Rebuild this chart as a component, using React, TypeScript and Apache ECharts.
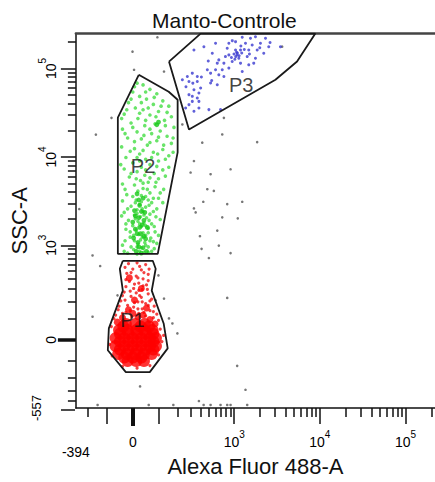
import React, { useEffect, useRef } from "react";
import * as echarts from "echarts";

// ---------- texts ----------
const TITLE = "Manto-Controle";
const X_NAME = "Alexa Fluor 488-A";
const Y_NAME = "SSC-A";
const X_MIN_LABEL = "-394";
const Y_MIN_LABEL = "-557";

// ---------- biexponential display scale (decade units) ----------
const X_LIN_WIDTH = 132;
const Y_LIN_WIDTH = 172;
const X_RANGE = [-0.663, 3.523];
const Y_RANGE = [-0.77, 3.461];

// ---------- tick values (raw intensity units) ----------
const LABEL_VALUES = [0, 1e3, 1e4, 1e5];
const LABEL_EXPONENTS = [0, 3, 4, 5];
const X_LONG_TICKS = [-100, 0, 100, 1e3, 1e4, 1e5];
const X_MINOR_TICKS = [-200, 200, 300, 400, 500, 600, 700, 800, 900, 2e3, 3e3, 4e3, 5e3, 6e3, 7e3, 8e3, 9e3, 2e4, 3e4, 4e4, 5e4, 6e4, 7e4, 8e4, 9e4, 2e5];
const Y_LONG_TICKS = [0, 1e3, 1e4, 1e5];
const Y_MINOR_TICKS = [-400, -300, -200, -100, 100, 200, 300, 400, 500, 600, 700, 800, 900, 2e3, 3e3, 4e3, 5e3, 6e3, 7e3, 8e3, 9e3, 2e4, 3e4, 4e4, 5e4, 6e4, 7e4, 8e4, 9e4, 2e5];

// ---------- gates (display units) ----------
const gateP1 = [[-0.116, 0.893], [0.233, 0.893], [0.267, 0.803], [0.221, 0.556], [0.36, 0.185], [0.407, -0.096], [0.198, -0.365], [-0.081, -0.365], [-0.291, -0.118], [-0.279, 0.129], [-0.116, 0.556], [-0.151, 0.803], [-0.116, 0.893]];
const gateP2 = [[0.07, 2.994], [0.419, 2.803], [0.523, 2.713], [0.523, 2.118], [0.291, 0.972], [-0.174, 0.972], [-0.174, 2.511], [0.07, 2.994]];
const gateP3 = [[0.422, 3.144], [0.791, 3.46], [2.128, 3.46], [1.915, 3.144], [1.663, 2.938], [0.655, 2.376], [0.422, 3.144]];
const gateLabels = [["P1", -0.003, 0.222], ["P2", 0.12, 1.964], ["P3", 1.264, 2.882]];

// ---------- events (display units) ----------
const redCore = [
  [-0.06, -0.24], [0.04, -0.24], [0.13, -0.24],
  [-0.1, -0.2], [0.0, -0.2], [0.1, -0.2],
  [-0.17, -0.16], [-0.07, -0.16], [0.03, -0.16], [0.13, -0.16], [0.22, -0.16],
  [-0.15, -0.11], [-0.05, -0.11], [0.05, -0.11], [0.15, -0.11], [0.24, -0.11],
  [-0.2, -0.07], [-0.1, -0.07], [0.0, -0.07], [0.1, -0.07], [0.2, -0.07], [0.27, -0.07],
  [-0.15, -0.02], [-0.05, -0.02], [0.05, -0.02], [0.15, -0.02], [0.24, -0.02],
  [-0.2, 0.02], [-0.1, 0.02], [0.0, 0.02], [0.1, 0.02], [0.2, 0.02], [0.27, 0.02],
  [-0.15, 0.07], [-0.05, 0.07], [0.05, 0.07], [0.15, 0.07], [0.24, 0.07],
  [-0.16, 0.11], [-0.06, 0.11], [0.04, 0.11], [0.14, 0.11], [0.23, 0.11],
  [-0.11, 0.15], [0.09, 0.15], [0.19, 0.15],
  [-0.08, 0.18], [0.03, 0.18], [0.14, 0.18],
];
const redMid = [[0.0, 0.3], [0.12, 0.28], [-0.12, 0.25], [0.2, 0.23], [-0.18, 0.2], [0.26, 0.18], [0.06, 0.26], [-0.05, 0.34], [0.16, 0.36], [0.02, 0.45], [0.1, 0.58], [-0.04, 0.7]];
const redDots = [
  [-0.05, 0.86], [0.05, 0.87], [0.15, 0.85], [0.0, 0.8], [0.1, 0.79], [-0.07, 0.75], [0.18, 0.74], [0.04, 0.72], [0.12, 0.69], [-0.04, 0.66], [0.07, 0.64], [0.16, 0.62], [-0.08, 0.6], [0.01, 0.58], [0.11, 0.57],
  [-0.1, 0.54], [0.04, 0.53], [0.18, 0.52], [-0.02, 0.49], [0.1, 0.48], [0.22, 0.46], [-0.14, 0.44], [0.06, 0.43], [0.15, 0.41], [-0.06, 0.39], [0.25, 0.38], [0.01, 0.37], [0.11, 0.35], [-0.17, 0.34], [0.2, 0.33], [-0.08, 0.31], [0.07, 0.3], [0.28, 0.29], [-0.2, 0.28], [0.15, 0.27], [-0.01, 0.26], [0.24, 0.25],
  [-0.25, 0.15], [0.32, 0.12], [-0.27, -0.05], [0.34, -0.02], [-0.24, -0.18], [0.3, -0.17], [-0.12, -0.3], [0.2, -0.29], [0.05, -0.32], [0.36, 0.05],
  [-0.09, 0.82], [0.08, 0.83], [0.19, 0.8], [-0.02, 0.76], [0.13, 0.76], [0.06, 0.7], [-0.08, 0.68], [0.18, 0.67], [0.02, 0.63], [0.12, 0.61], [-0.03, 0.55], [0.07, 0.56], [0.17, 0.57], [-0.12, 0.5], [0.08, 0.5], [0.2, 0.44], [-0.09, 0.45], [0.02, 0.42], [0.11, 0.43], [-0.16, 0.38], [0.18, 0.39], [-0.03, 0.33], [0.06, 0.35], [0.24, 0.32], [-0.12, 0.3], [0.13, 0.31], [-0.22, 0.24], [0.3, 0.22],
];
const greenDots = [
  [0.05, 2.9], [0.12, 2.88], [0.2, 2.83], [0.0, 2.8], [0.28, 2.78], [0.08, 2.75], [0.16, 2.72], [0.35, 2.7], [-0.05, 2.68], [0.24, 2.66], [0.42, 2.64], [0.03, 2.62], [0.12, 2.6], [0.3, 2.58], [-0.1, 2.55], [0.2, 2.54], [0.45, 2.52], [0.06, 2.5], [0.37, 2.48], [-0.02, 2.45], [0.26, 2.44], [0.14, 2.42], [0.48, 2.4], [-0.12, 2.38], [0.32, 2.36], [0.05, 2.35], [0.22, 2.33], [0.4, 2.3], [-0.06, 2.28], [0.1, 2.27], [0.28, 2.25], [0.45, 2.22], [0.17, 2.2], [-0.13, 2.18], [0.02, 2.16], [0.35, 2.15], [0.24, 2.12], [0.08, 2.1], [0.42, 2.08], [-0.08, 2.06], [0.15, 2.04], [0.3, 2.02],
  [0.02, 2.86], [0.15, 2.8], [0.25, 2.74], [-0.02, 2.72], [0.1, 2.68], [0.33, 2.64], [0.18, 2.62], [-0.07, 2.6], [0.4, 2.57], [0.08, 2.56], [0.27, 2.52], [-0.13, 2.5], [0.15, 2.48], [0.0, 2.4], [0.2, 2.38], [0.38, 2.42], [-0.09, 2.33], [0.13, 2.31], [0.3, 2.29], [0.47, 2.28], [0.02, 2.24], [0.2, 2.23], [0.36, 2.2], [-0.03, 2.13], [0.12, 2.14], [0.29, 2.1], [0.47, 2.12], [0.05, 2.06], [0.22, 2.06], [0.38, 2.04],
  [0.0, 2.0], [0.2, 1.98], [0.1, 1.95], [-0.1, 1.93], [0.35, 1.92], [0.05, 1.9], [0.25, 1.88], [0.14, 1.86], [-0.04, 1.84], [0.3, 1.82], [0.09, 1.8], [0.18, 1.78], [-0.12, 1.76], [0.02, 1.75], [0.26, 1.73], [0.12, 1.71], [0.36, 1.7], [0.06, 1.68], [0.2, 1.66], [-0.07, 1.64], [0.15, 1.62], [0.3, 1.6], [0.04, 1.58], [0.1, 1.56], [0.22, 1.55],
  [-0.14, 1.98], [0.08, 2.02], [0.28, 1.96], [0.42, 1.95], [0.15, 1.92], [-0.02, 1.88], [0.2, 1.83], [0.38, 1.85], [0.04, 1.82], [0.12, 1.77], [0.27, 1.78], [-0.09, 1.7], [0.17, 1.7], [0.32, 1.66], [0.0, 1.62], [0.1, 1.63], [0.24, 1.6], [-0.12, 1.57], [0.18, 1.58], [0.35, 1.55],
  [0.08, 1.53], [-0.02, 1.51], [0.15, 1.5], [0.28, 1.48], [0.05, 1.47], [0.12, 1.45], [-0.1, 1.44], [0.2, 1.42], [0.02, 1.41], [0.09, 1.39], [0.16, 1.38], [0.32, 1.36], [-0.05, 1.35], [0.06, 1.34], [0.13, 1.32], [0.22, 1.31], [0.0, 1.29], [0.1, 1.28], [0.18, 1.26], [-0.08, 1.25], [0.04, 1.24], [0.26, 1.22], [0.12, 1.21], [0.07, 1.19], [0.15, 1.18], [-0.03, 1.16], [0.21, 1.15], [0.09, 1.13], [0.02, 1.12], [0.14, 1.1], [0.28, 1.09], [0.06, 1.08], [-0.12, 1.07], [0.18, 1.05], [0.1, 1.04], [0.01, 1.02], [0.22, 1.0], [0.13, 0.99], [0.05, 0.97], [-0.06, 0.98],
  [0.03, 1.55], [0.19, 1.52], [-0.06, 1.48], [0.11, 1.48], [0.24, 1.45], [0.05, 1.43], [-0.13, 1.4], [0.13, 1.41], [0.27, 1.39], [0.03, 1.37], [0.19, 1.35], [-0.08, 1.31], [0.08, 1.31], [0.25, 1.28], [0.15, 1.29], [-0.03, 1.22], [0.18, 1.21], [0.3, 1.18], [0.01, 1.18], [0.11, 1.16], [-0.09, 1.12], [0.24, 1.11], [0.05, 1.05], [0.15, 1.07], [0.25, 1.03], [-0.02, 1.05], [0.08, 1.0], [0.18, 0.99], [-0.1, 1.0], [0.2, 1.12],
];
const greenDense = [[0.05, 1.65], [0.12, 1.6], [0.08, 1.52], [0.02, 1.46], [0.14, 1.44], [0.07, 1.38], [0.11, 1.3], [0.03, 1.25], [0.09, 1.2], [0.15, 1.14], [0.06, 1.1], [0.12, 1.04], [0.04, 1.0], [0.1, 0.98], [0.0, 1.33], [0.17, 1.27], [0.28, 2.43], [0.3, 2.46], [0.07, 1.58], [0.03, 1.4], [0.13, 1.35], [0.08, 1.27], [0.01, 1.15], [0.13, 1.17], [0.07, 1.05], [0.16, 1.0], [0.1, 1.45], [0.05, 1.2]];
const blueDots = [
  [1.276, 3.418], [1.372, 3.407], [1.43, 3.425], [1.547, 3.407], [1.12, 3.351], [1.198, 3.369], [1.314, 3.351], [1.392, 3.331], [1.488, 3.351], [1.585, 3.312], [1.721, 3.312], [0.965, 3.351], [1.101, 3.294], [1.198, 3.275], [1.256, 3.275], [1.352, 3.275], [1.45, 3.275], [1.527, 3.238], [0.713, 3.275], [0.829, 3.312], [0.927, 3.238], [1.12, 3.219], [1.217, 3.219], [1.236, 3.182], [1.334, 3.2], [1.43, 3.182], [1.159, 3.144], [1.256, 3.126], [1.352, 3.107], [1.41, 3.126], [1.003, 3.163], [1.062, 3.126], [0.985, 3.126], [0.965, 3.051], [1.043, 3.051], [1.12, 3.07], [1.276, 3.031], [0.869, 3.051], [0.907, 3.013], [1.003, 2.994], [1.062, 2.975], [0.694, 3.013], [0.752, 2.975], [0.636, 2.975], [0.655, 2.919], [0.578, 2.938], [0.752, 2.919], [0.907, 2.901], [0.985, 2.882], [0.791, 2.845], [0.713, 2.826], [0.771, 2.789], [0.655, 2.77], [0.694, 2.751], [0.752, 2.733], [0.771, 2.694], [0.694, 2.694], [0.655, 2.657], [0.616, 2.62], [0.771, 2.62], [0.887, 2.601], [1.023, 2.601], [0.713, 2.582], [1.2, 3.2], [1.22, 3.24],
  [1.18, 3.23], [1.24, 3.21], [1.21, 3.25], [1.15, 3.19], [1.27, 3.24], [1.19, 3.17], [1.3, 3.28], [1.08, 3.2], [1.36, 3.23], [1.26, 3.32], [0.88, 3.15], [0.8, 2.97], [0.62, 2.86], [1.16, 3.38], [1.48, 3.3], [1.6, 3.36], [0.92, 2.93], [0.7, 2.9],
];
const greyDots = [
  [0.287, 3.418], [-0.003, 3.256], [0.015, 3.051], [-0.248, 2.508], [-0.43, 2.319], [0.81, 2.228], [1.45, 2.234], [1.043, 2.32], [1.741, 3.312], [0.364, 3.031], [0.578, 2.433], [0.713, 2.02], [1.14, 1.927], [0.674, 1.89], [0.907, 1.871], [0.869, 1.702], [0.945, 1.683], [-0.624, 1.478], [0.822, 1.56], [1.101, 1.534], [1.276, 1.56], [0.713, 1.485], [0.733, 1.44], [1.043, 1.384], [1.224, 1.373], [0.985, 1.234], [0.783, 1.171], [1.003, 1.065], [0.802, 1.028], [1.14, 0.98], [0.887, 0.924], [-0.469, 0.953], [-0.38, 0.834], [0.299, 0.728], [-0.178, 0.503], [0.364, 0.466], [0.267, 0.447], [1.101, 0.474], [1.217, -0.294], [1.314, -0.564], [0.085, -0.526], [0.52, 0.073], [0.462, 0.185], [-0.41, -0.736], [0.186, -0.736], [0.473, -0.736], [0.771, -0.691], [0.826, -0.736], [0.907, -0.736], [1.023, -0.736], [1.101, -0.736], [1.14, -0.736], [1.334, -0.736], [-0.469, 0.261], [0.422, 0.242], [1.062, 2.508],
];

const FONT = "Liberation Sans, Arial, sans-serif";
const fx = (v: number) => Math.asinh(v / X_LIN_WIDTH) / Math.LN10;
const fy = (v: number) => Math.asinh(v / Y_LIN_WIDTH) / Math.LN10;

const rich = {
  b: { fontSize: 14, color: "#000", fontFamily: FONT, verticalAlign: "bottom", lineHeight: 20 },
  s: { fontSize: 10, color: "#000", fontFamily: FONT, verticalAlign: "top", lineHeight: 20 },
};

function makeFormatter(tf: (v: number) => number) {
  const pos = LABEL_VALUES.map(tf);
  return (val: number) => {
    let best = 0;
    pos.forEach((p, i) => {
      if (Math.abs(p - val) < Math.abs(pos[best] - val)) best = i;
    });
    const e = LABEL_EXPONENTS[best];
    return e === 0 ? "{b|0}" : `{b|10}{s|${e}}`;
  };
}

export default function App() {
  const ref = useRef<HTMLDivElement>(null);
  useEffect(() => {
    document.body.style.margin = "0";
    const chart = echarts.init(ref.current!, undefined, { renderer: "svg" });
    const black = "#111";
    const xBase = { type: "value", min: X_RANGE[0], max: X_RANGE[1], splitLine: { show: false } };
    const yBase = { type: "value", min: Y_RANGE[0], max: Y_RANGE[1], splitLine: { show: false } };
    const dotSeries = (data: number[][], color: string, size: number, z = 2) => ({
      type: "scatter",
      data,
      symbolSize: size,
      itemStyle: { color },
      silent: true,
      z,
      xAxisIndex: 0,
      yAxisIndex: 0,
    });
    const gateSeries = (data: number[][]) => ({
      type: "line",
      data,
      symbol: "none",
      lineStyle: { color: "#1a1a1a", width: 1.8 },
      silent: true,
      z: 5,
      xAxisIndex: 0,
      yAxisIndex: 0,
    });
    chart.setOption({
      animation: false,
      title: {
        text: TITLE,
        left: 147,
        top: 5,
        textStyle: { fontFamily: FONT, fontSize: 21, fontWeight: "normal", color: "#111" },
      },
      grid: { left: 75, right: 0, top: 33.5, bottom: 72 },
      xAxis: [
        {
          ...xBase,
          position: "bottom",
          axisLine: { show: true, onZero: false, lineStyle: { color: black, width: 1.5 } },
          axisTick: { show: true, customValues: X_LONG_TICKS.map(fx), length: 16, lineStyle: { color: black, width: 1.5 } },
          axisLabel: { show: true, customValues: LABEL_VALUES.map(fx), formatter: makeFormatter(fx), margin: 21, rich, fontFamily: FONT },
          name: X_NAME,
          nameLocation: "middle",
          nameGap: 47,
          nameTextStyle: { fontFamily: FONT, fontSize: 22, color: "#111" },
        },
        {
          ...xBase,
          position: "bottom",
          axisLine: { show: false, onZero: false },
          axisTick: { show: true, customValues: X_MINOR_TICKS.map(fx), length: 9, lineStyle: { color: black, width: 1.5 } },
          axisLabel: { show: false },
        },
        {
          ...xBase,
          position: "bottom",
          axisLine: { show: false, onZero: false },
          axisTick: { show: true, customValues: [fx(0)], length: 18, lineStyle: { color: black, width: 4 } },
          axisLabel: { show: true, customValues: [X_RANGE[0]], formatter: () => X_MIN_LABEL, margin: 37, fontSize: 14, color: "#000", fontFamily: FONT },
        },
        {
          ...xBase,
          position: "top",
          axisLine: { show: true, onZero: false, lineStyle: { color: "#444", width: 2.5 } },
          axisTick: { show: false },
          axisLabel: { show: false },
        },
      ],
      yAxis: [
        {
          ...yBase,
          position: "left",
          axisLine: { show: true, onZero: false, lineStyle: { color: black, width: 1.5 } },
          axisTick: { show: true, customValues: Y_LONG_TICKS.map(fy), length: 15, lineStyle: { color: black, width: 1.5 } },
          axisLabel: { show: true, customValues: LABEL_VALUES.map(fy), formatter: makeFormatter(fy), margin: 18, rotate: 90, rich, fontFamily: FONT },
          name: Y_NAME,
          nameLocation: "middle",
          nameGap: 40,
          nameTextStyle: { fontFamily: FONT, fontSize: 22, color: "#111" },
        },
        {
          ...yBase,
          position: "left",
          axisLine: { show: false, onZero: false },
          axisTick: { show: true, customValues: Y_MINOR_TICKS.map(fy), length: 8, lineStyle: { color: black, width: 1.5 } },
          axisLabel: { show: false },
        },
        {
          ...yBase,
          position: "left",
          axisLine: { show: false, onZero: false },
          axisTick: { show: true, customValues: [fy(0)], length: 18, lineStyle: { color: black, width: 3.5 } },
          axisLabel: { show: true, customValues: [Y_RANGE[0]], formatter: () => Y_MIN_LABEL, margin: 33, rotate: 90, fontSize: 13, color: "#000", fontFamily: FONT },
        },
      ],
      graphic: [
        { type: "line", shape: { x1: 61, y1: 410, x2: 75, y2: 410 }, style: { stroke: black, lineWidth: 1.5 } },
      ],
      series: [
        dotSeries(greyDots, "#555", 2.6),
        dotSeries(greenDots, "#44dd44", 3.6),
        dotSeries(greenDense, "#18c818", 4.8),
        dotSeries(blueDots, "#3a3ad0", 3),
        dotSeries(redDots, "#f01010", 3.2),
        dotSeries(redMid, "#ff0000", 7),
        dotSeries(redCore, "#ff0000", 12, 3),
        gateSeries(gateP1),
        gateSeries(gateP2),
        gateSeries(gateP3),
        {
          type: "scatter",
          data: gateLabels.map((g) => ({ name: g[0], value: [g[1], g[2]] })),
          symbolSize: 1,
          itemStyle: { color: "transparent" },
          label: { show: true, position: "inside", formatter: (p: any) => p.name, fontFamily: FONT, fontSize: 20, color: "#111" },
          silent: true,
          z: 6,
          xAxisIndex: 0,
          yAxisIndex: 0,
        },
      ],
    });
    return () => chart.dispose();
  }, []);
  return <div ref={ref} style={{ width: 435, height: 482 }} />;
}
